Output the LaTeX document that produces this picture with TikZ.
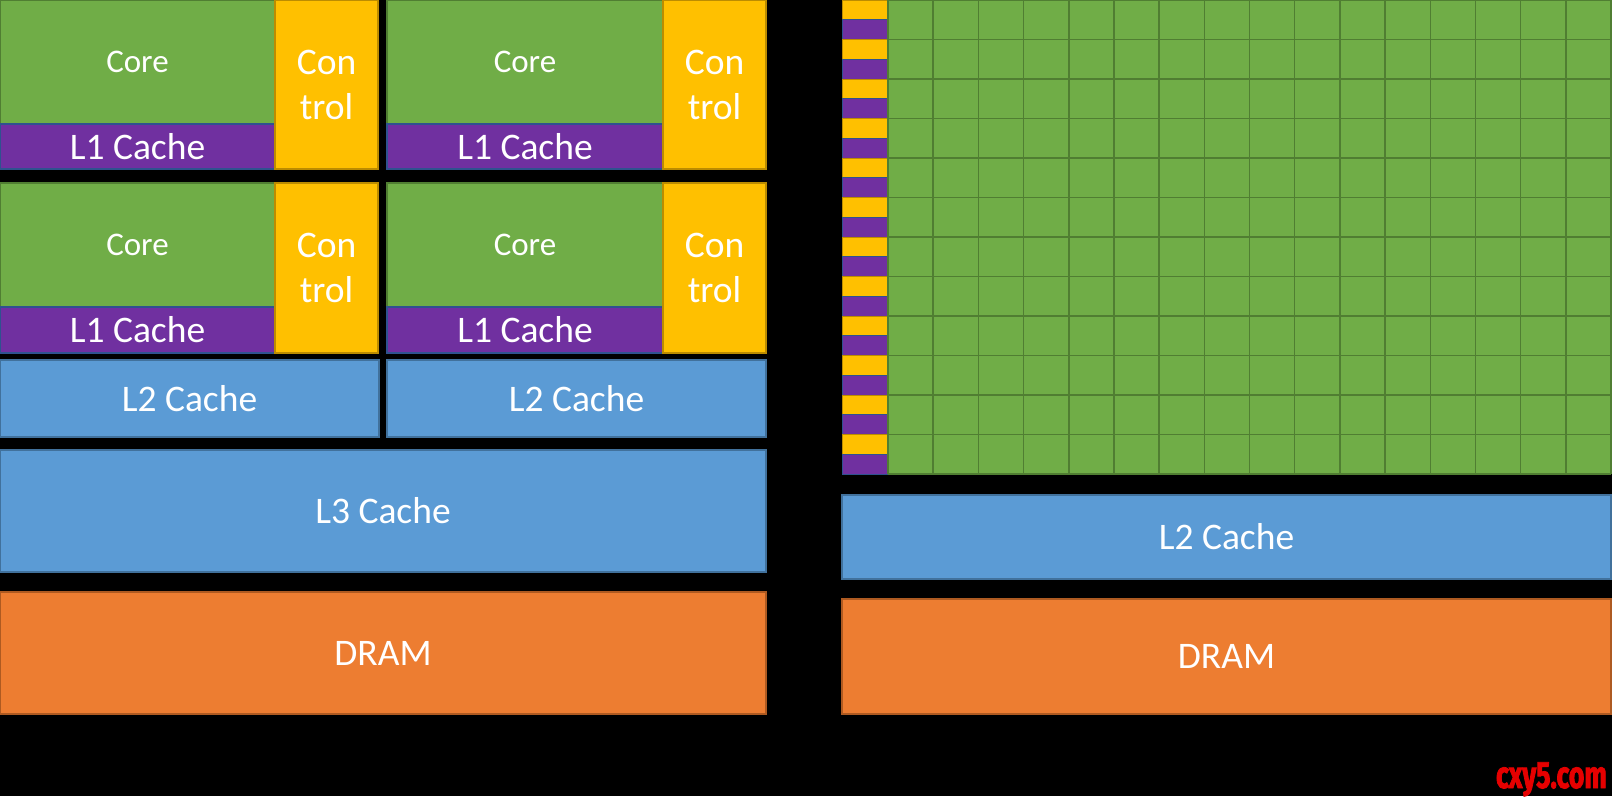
\documentclass[tikz,border=0pt]{standalone}
\usepackage{fontspec}
\setmainfont{Carlito}
\newfontfamily\wmfont[FakeStretch=0.7,FakeBold=2]{Fira Sans}
\definecolor{cgreen}{HTML}{70AD47}
\definecolor{cgreenO}{HTML}{507E32}
\definecolor{cpurple}{HTML}{7030A0}
\definecolor{cpurpleO}{HTML}{2F528F}
\definecolor{cyellow}{HTML}{FFC000}
\definecolor{cyellowO}{HTML}{BC8C00}
\definecolor{cblue}{HTML}{5B9BD5}
\definecolor{cblueO}{HTML}{41719C}
\definecolor{corange}{HTML}{ED7D31}
\definecolor{corangeO}{HTML}{AE5A21}
\tikzset{
  box/.style={anchor=north west, inner sep=0pt, outer sep=0pt, text=white,
    line width=1.5pt, font=\fontsize{37.5}{45}\selectfont, align=center},
  corebox/.style={box, fill=cgreen, draw=cgreenO, font=\fontsize{33}{40}\selectfont},
  lonebox/.style={box, fill=cpurple, draw=cpurpleO},
  ctrlbox/.style={box, fill=cyellow, draw=cyellowO},
  cachebox/.style={box, fill=cblue, draw=cblueO},
  drambox/.style={box, fill=corange, draw=corangeO},
}
\begin{document}
\begin{tikzpicture}[x=1pt,y=-1pt]
\fill[black] (0,0) rectangle (1612,796);
\useasboundingbox (0,0) rectangle (1612,796);
% CPU tiles
\node[corebox, minimum width=275pt, minimum height=124pt] (core1) at (0,0) {Core};
\node[lonebox, minimum width=275pt, minimum height=45pt] (l1a) at (0,124) {L1 Cache};
\node[ctrlbox, minimum width=103pt, minimum height=169pt] (ctrl1) at (275,0) {Con\\trol};
\node[corebox, minimum width=276pt, minimum height=124pt] (core2) at (387,0) {Core};
\node[lonebox, minimum width=276pt, minimum height=45pt] (l1b) at (387,124) {L1 Cache};
\node[ctrlbox, minimum width=103pt, minimum height=169pt] (ctrl2) at (663,0) {Con\\trol};
\node[corebox, minimum width=275pt, minimum height=124pt] (core3) at (0,183) {Core};
\node[lonebox, minimum width=275pt, minimum height=46pt] (l1c) at (0,307) {L1 Cache};
\node[ctrlbox, minimum width=103pt, minimum height=170pt] (ctrl3) at (275,183) {Con\\trol};
\node[corebox, minimum width=276pt, minimum height=124pt] (core4) at (387,183) {Core};
\node[lonebox, minimum width=276pt, minimum height=46pt] (l1d) at (387,307) {L1 Cache};
\node[ctrlbox, minimum width=103pt, minimum height=170pt] (ctrl4) at (663,183) {Con\\trol};
\node[cachebox, minimum width=379pt, minimum height=77pt] (l2a) at (0,360) {L2 Cache};
\node[cachebox, minimum width=379pt, minimum height=77pt] (l2b) at (387,360) {L2 Cache};
\node[cachebox, minimum width=766pt, minimum height=122pt] (l3) at (0,450) {L3 Cache};
\node[drambox, minimum width=766pt, minimum height=122pt] (dram1) at (0,592) {DRAM};
% GPU
\foreach \i in {0,...,11}{
  \path[fill=cyellow, draw=cyellowO, line width=1pt] (842,{\i*39.5}) rectangle (888,{\i*39.5+19.75});
  \path[fill=cpurple, draw=cpurpleO, line width=1pt] (842,{\i*39.5+19.75}) rectangle (888,{\i*39.5+39.5});
}
\fill[cgreen] (888,0) rectangle (1611,474);
\foreach \c in {0,...,16}{
  \draw[cgreenO, line width=1.5pt] ({888+\c*45.19},0) -- ({888+\c*45.19},474);
}
\foreach \r in {0,...,12}{
  \draw[cgreenO, line width=1.5pt] (888,{\r*39.5}) -- (1611,{\r*39.5});
}
\node[cachebox, minimum width=769pt, minimum height=84pt] (l2g) at (842,495) {L2 Cache};
\node[drambox, minimum width=769pt, minimum height=115pt] (dram2) at (842,599) {DRAM};
% watermark
\node[anchor=base east, inner sep=0pt, text={rgb,255:red,230;green,0;blue,0}, font=\wmfont\bfseries\fontsize{38}{38}\selectfont] (wm) at (1607,788) {cxy5.com};
\end{tikzpicture}
\end{document}
